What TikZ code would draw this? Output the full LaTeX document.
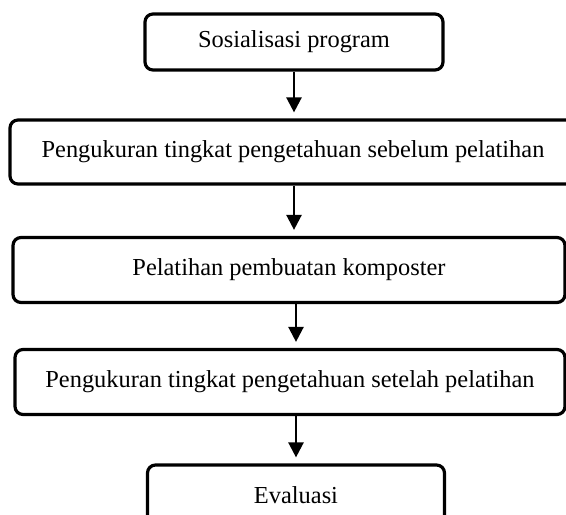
\documentclass[tikz,border=0pt]{standalone}
\usepackage{fontspec}
\setmainfont{Liberation Serif}
\usetikzlibrary{arrows.meta}

\begin{document}
\begin{tikzpicture}[x=0.5pt, y=-0.5pt,
    stepbox/.style={draw, line width=1.6pt, rounded corners=4pt, inner sep=0pt,
      font=\fontsize{12.2}{14}\selectfont, align=center},
    flow/.style={line width=1.2pt, -{Triangle[length=7.5pt, width=7.5pt]}, shorten >=3pt}]
  % Page size
  \useasboundingbox (0,0) rectangle (566,514);

  % Steps
  \node[stepbox, minimum width=149pt, minimum height=28pt] (sosialisasi) at (294,42) {Sosialisasi program};
  \node[stepbox, minimum width=283pt, minimum height=32pt] (pretest) at (293,152) {Pengukuran tingkat pengetahuan sebelum pelatihan};
  \node[stepbox, minimum width=276pt, minimum height=32.5pt] (pelatihan) at (289,270) {Pelatihan pembuatan komposter};
  \node[stepbox, minimum width=275pt, minimum height=32.5pt] (posttest) at (290,382) {Pengukuran tingkat pengetahuan setelah pelatihan};
  \node[stepbox, minimum width=148.5pt, minimum height=30pt] (evaluasi) at (296,495) {Evaluasi};

  % Arrows
  \draw[flow] (sosialisasi.south) -- (sosialisasi.south |- pretest.north);
  \draw[flow] (pretest.south -| sosialisasi) -- (sosialisasi |- pelatihan.north);
  \draw[flow] (pelatihan.south -| evaluasi) -- (evaluasi |- posttest.north);
  \draw[flow] (posttest.south -| evaluasi) -- (evaluasi.north);
\end{tikzpicture}
\end{document}
